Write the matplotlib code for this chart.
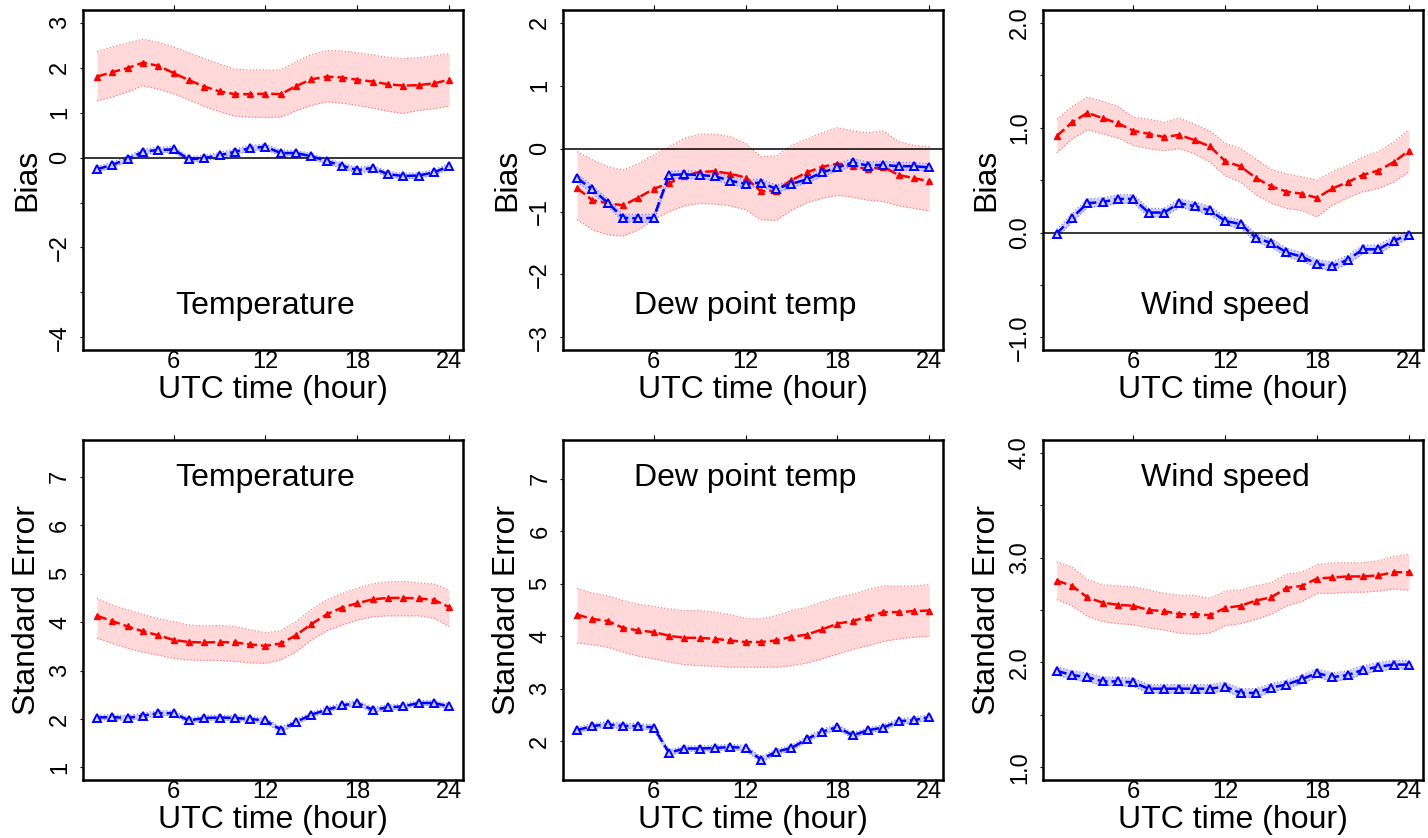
import matplotlib
matplotlib.use('Agg')
import matplotlib.pyplot as plt
import matplotlib.transforms as mtransforms

plt.rcParams['font.family'] = ['Liberation Sans', 'DejaVu Sans']

hours = list(range(1, 25))
xticks = [6, 12, 18, 24]
xtick_labels = ['6', '12', '18', '24']

# ---- Bias: temperature
temp_bias_red = [1.80, 1.90, 1.99, 2.11, 2.04, 1.88, 1.72, 1.58, 1.47, 1.41, 1.41, 1.42,
                 1.41, 1.59, 1.74, 1.80, 1.78, 1.73, 1.69, 1.63, 1.60, 1.61, 1.65, 1.73]
temp_bias_red_hi = [2.36, 2.46, 2.55, 2.63, 2.56, 2.46, 2.33, 2.20, 2.08, 1.96, 1.95, 1.95,
                    1.95, 2.13, 2.29, 2.38, 2.37, 2.33, 2.28, 2.23, 2.20, 2.22, 2.26, 2.31]
temp_bias_red_lo = [1.26, 1.35, 1.46, 1.60, 1.52, 1.42, 1.28, 1.14, 1.02, 0.92, 0.90, 0.89,
                    0.90, 1.04, 1.16, 1.24, 1.21, 1.16, 1.10, 1.03, 0.98, 1.05, 1.09, 1.14]
temp_bias_blue = [-0.26, -0.16, -0.03, 0.13, 0.17, 0.18, -0.04, -0.01, 0.05, 0.13, 0.21, 0.24,
                  0.10, 0.10, 0.03, -0.08, -0.18, -0.28, -0.23, -0.37, -0.41, -0.40, -0.33, -0.19]

# ---- Bias: dew point temp
dew_bias_red = [-0.63, -0.82, -0.87, -0.90, -0.78, -0.64, -0.55, -0.44, -0.37, -0.36, -0.40, -0.46,
                -0.68, -0.67, -0.50, -0.38, -0.29, -0.24, -0.28, -0.33, -0.29, -0.42, -0.47, -0.52]
dew_bias_red_hi = [-0.05, -0.18, -0.29, -0.34, -0.24, -0.10, 0.03, 0.16, 0.23, 0.23, 0.19, 0.08,
                   -0.13, -0.12, 0.05, 0.15, 0.25, 0.33, 0.28, 0.25, 0.28, 0.11, 0.05, 0.03]
dew_bias_red_lo = [-1.13, -1.29, -1.37, -1.39, -1.29, -1.13, -1.00, -0.91, -0.87, -0.88, -0.91, -0.97,
                   -1.13, -1.14, -0.98, -0.86, -0.79, -0.74, -0.77, -0.82, -0.84, -0.91, -0.95, -0.99]
dew_bias_blue = [-0.47, -0.65, -0.86, -1.10, -1.11, -1.10, -0.42, -0.41, -0.42, -0.44, -0.51, -0.56,
                 -0.54, -0.64, -0.56, -0.49, -0.38, -0.30, -0.22, -0.27, -0.26, -0.28, -0.28, -0.30]

# ---- Bias: wind speed
wind_bias_red = [0.92, 1.05, 1.14, 1.09, 1.04, 0.97, 0.94, 0.91, 0.93, 0.88, 0.82, 0.68,
                 0.63, 0.52, 0.44, 0.39, 0.37, 0.33, 0.42, 0.48, 0.55, 0.59, 0.67, 0.78]
wind_bias_red_hi = [1.08, 1.20, 1.29, 1.25, 1.20, 1.10, 1.08, 1.05, 1.09, 1.03, 0.97, 0.85,
                    0.80, 0.70, 0.60, 0.56, 0.53, 0.50, 0.58, 0.64, 0.72, 0.77, 0.86, 0.98]
wind_bias_red_lo = [0.76, 0.89, 0.98, 0.94, 0.90, 0.83, 0.80, 0.78, 0.80, 0.75, 0.67, 0.54,
                    0.48, 0.36, 0.28, 0.23, 0.21, 0.15, 0.26, 0.33, 0.39, 0.42, 0.48, 0.58]
wind_bias_blue = [-0.01, 0.14, 0.28, 0.29, 0.32, 0.32, 0.19, 0.19, 0.28, 0.25, 0.21, 0.11,
                  0.08, -0.05, -0.10, -0.19, -0.23, -0.30, -0.32, -0.26, -0.16, -0.16, -0.08, -0.02]

# ---- Standard error: temperature
temp_se_red = [4.13, 4.02, 3.91, 3.81, 3.73, 3.63, 3.59, 3.58, 3.59, 3.58, 3.54, 3.51,
               3.56, 3.73, 3.96, 4.16, 4.30, 4.39, 4.47, 4.50, 4.50, 4.49, 4.46, 4.31]
temp_se_red_hi = [4.49, 4.35, 4.25, 4.16, 4.07, 4.01, 3.94, 3.92, 3.93, 3.91, 3.84, 3.78,
                  3.82, 4.01, 4.26, 4.46, 4.59, 4.70, 4.79, 4.83, 4.84, 4.81, 4.79, 4.66]
temp_se_red_lo = [3.67, 3.56, 3.46, 3.38, 3.32, 3.25, 3.22, 3.21, 3.21, 3.19, 3.16, 3.15,
                  3.22, 3.39, 3.63, 3.82, 3.94, 4.04, 4.11, 4.13, 4.13, 4.13, 4.08, 3.91]
temp_se_blue = [2.03, 2.04, 2.02, 2.07, 2.12, 2.12, 1.97, 2.02, 2.03, 2.02, 2.00, 1.97,
                1.78, 1.94, 2.09, 2.19, 2.28, 2.33, 2.19, 2.24, 2.26, 2.33, 2.33, 2.26]

# ---- Standard error: dew point temp
dew_se_red = [4.41, 4.33, 4.29, 4.16, 4.11, 4.08, 4.01, 3.97, 3.97, 3.95, 3.92, 3.89,
              3.89, 3.92, 3.99, 4.03, 4.13, 4.24, 4.29, 4.37, 4.46, 4.46, 4.48, 4.49]
dew_se_red_hi = [4.91, 4.82, 4.77, 4.68, 4.61, 4.57, 4.52, 4.49, 4.49, 4.46, 4.41, 4.34,
                 4.33, 4.39, 4.49, 4.55, 4.65, 4.74, 4.80, 4.89, 4.96, 4.95, 4.96, 4.98]
dew_se_red_lo = [3.87, 3.84, 3.79, 3.70, 3.62, 3.57, 3.51, 3.46, 3.44, 3.43, 3.41, 3.41,
                 3.41, 3.41, 3.44, 3.49, 3.57, 3.66, 3.75, 3.82, 3.90, 3.95, 3.98, 4.00]
dew_se_blue = [2.21, 2.29, 2.32, 2.29, 2.29, 2.26, 1.78, 1.86, 1.86, 1.87, 1.89, 1.87,
               1.65, 1.80, 1.87, 2.04, 2.18, 2.27, 2.11, 2.21, 2.26, 2.38, 2.40, 2.46]

# ---- Standard error: wind speed
wind_se_red = [2.78, 2.73, 2.62, 2.57, 2.55, 2.54, 2.50, 2.49, 2.46, 2.46, 2.45, 2.52,
               2.54, 2.59, 2.62, 2.71, 2.73, 2.80, 2.81, 2.82, 2.82, 2.83, 2.86, 2.86]
wind_se_red_hi = [2.96, 2.91, 2.79, 2.74, 2.73, 2.72, 2.69, 2.66, 2.64, 2.64, 2.61, 2.68,
                  2.69, 2.73, 2.76, 2.84, 2.86, 2.93, 2.95, 2.95, 2.95, 2.97, 3.01, 3.03]
wind_se_red_lo = [2.60, 2.54, 2.44, 2.39, 2.37, 2.36, 2.33, 2.31, 2.28, 2.27, 2.28, 2.35,
                  2.37, 2.41, 2.46, 2.54, 2.58, 2.66, 2.66, 2.67, 2.67, 2.68, 2.70, 2.69]
wind_se_blue = [1.92, 1.88, 1.86, 1.82, 1.82, 1.81, 1.75, 1.75, 1.75, 1.75, 1.75, 1.77,
                1.71, 1.71, 1.76, 1.79, 1.84, 1.90, 1.86, 1.88, 1.93, 1.96, 1.98, 1.98]

# half width of the narrow blue band, one per panel
blue_spread = [0.06, 0.06, 0.04, 0.05, 0.05, 0.04]

titles = ['Temperature', 'Dew point temp', 'Wind speed',
          'Temperature', 'Dew point temp', 'Wind speed']
ylabels = ['Bias', 'Bias', 'Bias', 'Standard Error', 'Standard Error', 'Standard Error']
yranges = [(-4, 3), (-3, 2), (-1, 2), (1, 7.5), (1.5, 7.5), (1, 4)]
yticks = [[-4, -3, -2, -1, 0, 1, 2, 3],
          [-3, -2, -1, 0, 1, 2],
          [-1.0, -0.5, 0.0, 0.5, 1.0, 1.5, 2.0],
          [1, 2, 3, 4, 5, 6, 7],
          [2, 3, 4, 5, 6, 7],
          [1.0, 1.5, 2.0, 2.5, 3.0, 3.5, 4.0]]
ytick_labels = [['\u22124', '', '\u22122', '', '0', '1', '2', '3'],
                ['\u22123', '\u22122', '\u22121', '0', '1', '2'],
                ['\u22121.0', '', '0.0', '', '1.0', '', '2.0'],
                ['1', '2', '3', '4', '5', '6', '7'],
                ['2', '3', '4', '5', '6', '7'],
                ['1.0', '', '2.0', '', '3.0', '', '4.0']]

red_mean = [temp_bias_red, dew_bias_red, wind_bias_red, temp_se_red, dew_se_red, wind_se_red]
red_hi = [temp_bias_red_hi, dew_bias_red_hi, wind_bias_red_hi, temp_se_red_hi, dew_se_red_hi, wind_se_red_hi]
red_lo = [temp_bias_red_lo, dew_bias_red_lo, wind_bias_red_lo, temp_se_red_lo, dew_se_red_lo, wind_se_red_lo]
blue_mean = [temp_bias_blue, dew_bias_blue, wind_bias_blue, temp_se_blue, dew_se_blue, wind_se_blue]

# panel boxes in figure fractions (left, bottom, width, height)
lefts = [0.0581, 0.3943, 0.7302]
bottoms = [0.5823, 0.0692]
w, h = 0.2663, 0.4057

fig = plt.figure(figsize=(14.28, 8.38), dpi=100)

for i in range(6):
    row, col = divmod(i, 3)
    ax = fig.add_axes([lefts[col], bottoms[row], w, h])

    # R style 4% padding of the axis ranges
    x0, x1 = hours[0], hours[-1]
    xpad = 0.04 * (x1 - x0)
    ax.set_xlim(x0 - xpad, x1 + xpad)
    y0, y1 = yranges[i]
    ypad = 0.04 * (y1 - y0)
    ax.set_ylim(y0 - ypad, y1 + ypad)

    bl = [m - blue_spread[i] for m in blue_mean[i]]
    bh = [m + blue_spread[i] for m in blue_mean[i]]

    ax.fill_between(hours, red_lo[i], red_hi[i], color='#ffd9d9', lw=0, zorder=1)
    ax.plot(hours, red_lo[i], color='#ff8080', lw=0.9, ls=':', zorder=2)
    ax.plot(hours, red_hi[i], color='#ff8080', lw=0.9, ls=':', zorder=2)
    ax.fill_between(hours, bl, bh, color='#c4c4ff', lw=0, alpha=0.85, zorder=3)
    ax.plot(hours, bl, color='#8080ff', lw=0.9, ls=':', zorder=3)
    ax.plot(hours, bh, color='#8080ff', lw=0.9, ls=':', zorder=3)

    if row == 0:
        ax.axhline(0, color='black', lw=1.1, zorder=4)

    ax.plot(hours, red_mean[i], color='red', lw=1.8, ls=(0, (4, 1.6)),
            marker='^', ms=4, mfc='red', mec='red', zorder=5)
    ax.plot(hours, blue_mean[i], color='blue', lw=1.8, ls=(0, (4, 1.6)),
            marker='^', ms=6, mfc='#d0d0ff', mec='blue', mew=1.4, zorder=6)

    ax.set_xticks(xticks)
    ax.set_xticklabels(xtick_labels)
    ax.tick_params(axis='x', bottom=False, top=True, labelbottom=True, labeltop=False,
                   direction='out', length=3.5, width=0.8, pad=-2.5, labelsize=17)
    ax.set_yticks(yticks[i])
    ax.set_yticklabels(ytick_labels[i])
    ax.tick_params(axis='y', direction='out', length=2.5, width=0.8, pad=6, labelsize=17)
    for lab in ax.get_yticklabels():
        lab.set_rotation(90)
        lab.set_va('center')

    for sp in ax.spines.values():
        sp.set_linewidth(1.8)

    ax.set_xlabel('UTC time (hour)', fontsize=23)
    ax.xaxis.set_label_coords(0.5, -0.118)
    ax.xaxis.label.set_va('center')
    ax.set_ylabel(ylabels[i], fontsize=23)
    ax.yaxis.set_label_coords(-0.147, 0.5)
    ax.yaxis.label.set_va('center')

    trans = mtransforms.blended_transform_factory(ax.transData, ax.transAxes)
    ty = 0.13 if row == 0 else 0.888
    ax.text(12, ty, titles[i], transform=trans, ha='center', va='center', fontsize=23)

fig.savefig('out.png', dpi=100)
